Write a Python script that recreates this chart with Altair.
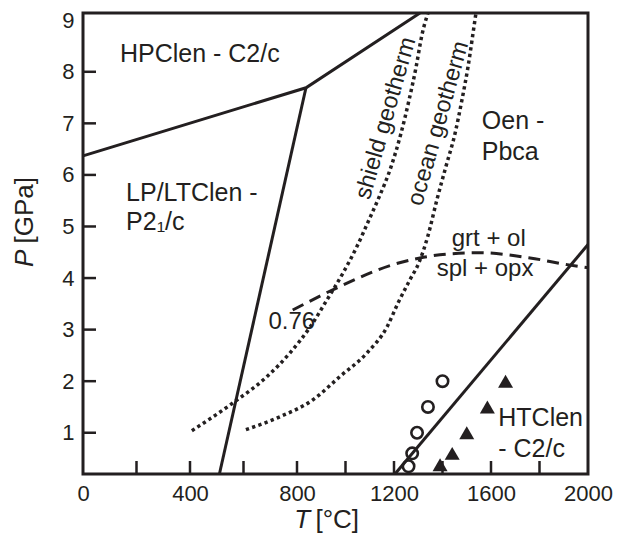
import altair as alt
import pandas as pd

INK = "#231f20"
FONT = "Liberation Sans"

# ---- phase boundaries (T in °C, P in GPa) ----
hp_T = [0, 837, 1307]
hp_P = [6.37, 7.69, 9.14]
lp_T = [837, 510]
lp_P = [7.69, 0.2]
ht_T = [1204, 2000]
ht_P = [0.2, 4.65]

# ---- geotherms (dotted) ----
shield_T = [407, 561, 688, 774, 854, 924, 990, 1047, 1097, 1134, 1188, 1229, 1262, 1291, 1315, 1340]
shield_P = [1.04, 1.58, 2.09, 2.55, 3.05, 3.58, 4.10, 4.61, 5.13, 5.52, 6.16, 6.81, 7.45, 8.09, 8.71, 9.14]
ocean_T = [609, 736, 866, 977, 1089, 1171, 1217, 1266, 1303, 1340, 1377, 1414, 1452, 1480, 1505, 1526, 1538]
ocean_P = [1.06, 1.31, 1.64, 2.09, 2.55, 3.05, 3.52, 3.97, 4.30, 4.82, 5.52, 6.16, 6.81, 7.45, 8.09, 8.75, 9.14]

# ---- grt + ol / spl + opx reaction (dashed) ----
react_T = [784, 965, 1196, 1307, 1431, 1555, 1761, 1914, 2000]
react_P = [3.38, 3.81, 4.26, 4.39, 4.47, 4.49, 4.39, 4.26, 4.20]

# ---- experiments ----
circ_T = [1260, 1275, 1295, 1340, 1400]
circ_P = [0.35, 0.6, 1.0, 1.5, 2.0]
tri_T = [1390, 1440, 1500, 1585, 1660]
tri_P = [0.38, 0.6, 1.0, 1.5, 2.0]

# ---- axis ticks / labels ----
x_labels = [0, 400, 800, 1200, 1600, 2000]
x_ticks = [200, 400, 600, 800, 1000, 1200, 1400, 1600, 1800]
y_labels = [1, 2, 3, 4, 5, 6, 7, 8, 9]
y_ticks = [1, 2, 3, 4, 5, 6, 7, 8]

# ---- annotations ----
field_text = ["HPClen - C2/c", "LP/LTClen -", "P2\u2081/c", "Oen -", "Pbca", "HTClen", "- C2/c"]
field_T = [138, 161, 161, 1562, 1562, 1630, 1630]
field_P = [8.34, 5.64, 5.08, 7.04, 6.45, 1.28, 0.69]

small_text = ["grt + ol", "spl + opx", "0.76"]
small_T = [1438, 1376, 693]
small_P = [4.76, 4.18, 3.14]

geo_text = ["shield geotherm", "ocean geotherm"]
geo_T = [1166, 1383]
geo_P = [7.10, 7.00]

xtitle_text = ["T", "[°C]"]
xtitle_T = [854, 876]
xtitle_P = [-0.69, -0.69]
ytitle_text = ["P", "[GPa]"]
ytitle_T = [-217, -217]
ytitle_P = [4.55, 4.67]

W, H = 505, 461
X_DOM = [0, 800, 2000]
X_RNG = [0, 214, 505]
Y_DOM = [0.2, 9.14]
TICK_LEN = 13  # px

xs = alt.Scale(domain=X_DOM, range=X_RNG, nice=False, zero=False)
ys = alt.Scale(domain=Y_DOM, nice=False, zero=False)

# tick length expressed in data units of each axis
tick_dP = TICK_LEN * (Y_DOM[1] - Y_DOM[0]) / H
tick_dT = TICK_LEN * (X_DOM[1] - X_DOM[0]) / (X_RNG[1] - X_RNG[0])

main_x_axis = alt.Axis(values=x_labels, ticks=False, domain=False, grid=False, title=None,
                       labelFontSize=22, labelFont=FONT, labelColor=INK, labelPadding=9,
                       labelFlush=False, labelOverlap=False, format="d")
main_y_axis = alt.Axis(values=y_labels, ticks=False, domain=False, grid=False, title=None,
                       labelFontSize=22, labelFont=FONT, labelColor=INK, labelPadding=9,
                       labelOverlap=False, format="d")


def X(field="T"):
    return alt.X(f"{field}:Q", scale=xs, axis=main_x_axis)


def Y(field="P"):
    return alt.Y(f"{field}:Q", scale=ys, axis=main_y_axis)


def line_df(T, P):
    return pd.DataFrame({"T": T, "P": P, "o": list(range(len(T)))})


solid = dict(color=INK, strokeWidth=3)

l_hp = alt.Chart(line_df(hp_T, hp_P)).mark_line(**solid).encode(x=X(), y=Y(), order="o:Q")
l_lp = alt.Chart(line_df(lp_T, lp_P)).mark_line(**solid).encode(x=X(), y=Y(), order="o:Q")
l_ht = alt.Chart(line_df(ht_T, ht_P)).mark_line(**solid).encode(x=X(), y=Y(), order="o:Q")

l_sh = alt.Chart(line_df(shield_T, shield_P)).mark_line(
    color=INK, strokeWidth=3.5, strokeDash=[3.3, 3.3], strokeCap="butt", interpolate="monotone"
).encode(x=X(), y=Y(), order="o:Q")
l_oc = alt.Chart(line_df(ocean_T, ocean_P)).mark_line(
    color=INK, strokeWidth=3.5, strokeDash=[3.3, 3.3], strokeCap="butt", interpolate="monotone"
).encode(x=X(), y=Y(), order="o:Q")
l_re = alt.Chart(line_df(react_T, react_P)).mark_line(
    color=INK, strokeWidth=3, strokeDash=[12, 7], strokeCap="butt", interpolate="monotone"
).encode(x=X(), y=Y(), order="o:Q")

# inward-pointing axis ticks: short two-point segments drawn through the scales
tk_T, tk_P, tk_id, tk_o = [], [], [], []
for i, t in enumerate(x_ticks):
    tk_T += [t, t]
    tk_P += [Y_DOM[0], Y_DOM[0] + tick_dP]
    tk_id += [f"x{i}", f"x{i}"]
    tk_o += [0, 1]
for i, p in enumerate(y_ticks):
    tk_T += [X_DOM[0], X_DOM[0] + tick_dT]
    tk_P += [p, p]
    tk_id += [f"y{i}", f"y{i}"]
    tk_o += [0, 1]
ticks_df = pd.DataFrame({"T": tk_T, "P": tk_P, "id": tk_id, "o": tk_o})
k_ticks = alt.Chart(ticks_df).mark_line(color=INK, strokeWidth=2.5, strokeCap="butt").encode(
    x=X(), y=Y(), detail="id:N", order="o:Q")

p_circ = alt.Chart(pd.DataFrame({"T": circ_T, "P": circ_P})).mark_point(
    shape="circle", filled=False, size=130, strokeWidth=2.6, color=INK, opacity=1
).encode(x=X(), y=Y())
p_tri = alt.Chart(pd.DataFrame({"T": tri_T, "P": tri_P})).mark_point(
    shape="triangle-up", filled=True, size=225, color=INK, opacity=1
).encode(x=X(), y=Y())

t_field = alt.Chart(pd.DataFrame({"T": field_T, "P": field_P, "t": field_text})).mark_text(
    align="left", baseline="middle", font=FONT, fontSize=25, color=INK
).encode(x=X(), y=Y(), text="t:N")
t_small = alt.Chart(pd.DataFrame({"T": small_T, "P": small_P, "t": small_text})).mark_text(
    align="left", baseline="middle", font=FONT, fontSize=24, color=INK
).encode(x=X(), y=Y(), text="t:N")
t_geo = alt.Chart(pd.DataFrame({"T": geo_T, "P": geo_P, "t": geo_text})).mark_text(
    align="center", baseline="middle", font=FONT, fontSize=23.5, color=INK, angle=286
).encode(x=X(), y=Y(), text="t:N")

# axis titles (italic symbol + regular unit)
t_xt1 = alt.Chart(pd.DataFrame({"T": xtitle_T[:1], "P": xtitle_P[:1], "t": xtitle_text[:1]})).mark_text(
    align="right", baseline="middle", font=FONT, fontSize=26, fontStyle="italic", color=INK
).encode(x=X(), y=Y(), text="t:N")
t_xt2 = alt.Chart(pd.DataFrame({"T": xtitle_T[1:], "P": xtitle_P[1:], "t": xtitle_text[1:]})).mark_text(
    align="left", baseline="middle", font=FONT, fontSize=26, color=INK
).encode(x=X(), y=Y(), text="t:N")
t_yt1 = alt.Chart(pd.DataFrame({"T": ytitle_T[:1], "P": ytitle_P[:1], "t": ytitle_text[:1]})).mark_text(
    align="right", baseline="middle", font=FONT, fontSize=26, fontStyle="italic", color=INK, angle=270
).encode(x=X(), y=Y(), text="t:N")
t_yt2 = alt.Chart(pd.DataFrame({"T": ytitle_T[1:], "P": ytitle_P[1:], "t": ytitle_text[1:]})).mark_text(
    align="left", baseline="middle", font=FONT, fontSize=26, color=INK, angle=270
).encode(x=X(), y=Y(), text="t:N")

chart = alt.layer(
    l_hp, l_lp, l_ht, l_sh, l_oc, l_re, k_ticks, p_circ, p_tri,
    t_field, t_small, t_geo, t_xt1, t_xt2, t_yt1, t_yt2
).properties(
    width=W, height=H,
    autosize=alt.AutoSizeParams(type="none"),
    padding={"left": 83, "top": 13, "right": 44, "bottom": 64},
    background="white",
).configure_view(stroke=INK, strokeWidth=3)

chart.save("out.html", embed_options={"renderer": "svg", "actions": False})
